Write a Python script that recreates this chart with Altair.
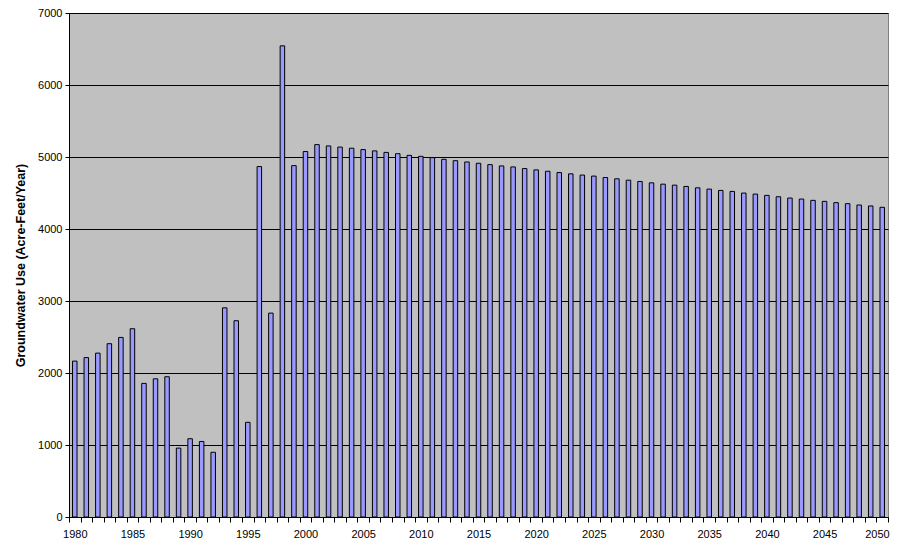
import altair as alt
import pandas as pd

years = list(range(1980, 2051))
use = [
    2165, 2214, 2276, 2407, 2494, 2615, 1856, 1919, 1948, 957,
    1087, 1049, 899, 2905, 2726, 1315, 4867, 2832, 6544, 4880,
    5076, 5172, 5154, 5138, 5122, 5103, 5085, 5064, 5046, 5023,
    5009, 4991, 4968, 4949, 4931, 4913, 4894, 4876, 4862, 4839,
    4821, 4802, 4784, 4766, 4749, 4735, 4715, 4697, 4678, 4660,
    4641, 4623, 4609, 4591, 4572, 4554, 4536, 4522, 4499, 4485,
    4467, 4448, 4430, 4416, 4398, 4384, 4366, 4352, 4333, 4320,
    4301,
]

df = pd.DataFrame({"year": years, "use": use})

FONT = "Liberation Sans"

chart = alt.Chart(df).mark_bar(
    size=4.5, fill="#9999FF", stroke="#000000", strokeWidth=1
).encode(
    x=alt.X(
        "year:O",
        title=None,
        scale=alt.Scale(paddingInner=0, paddingOuter=0),
        axis=alt.Axis(
            tickBand="extent",
            labelExpr="datum.value % 5 == 0 ? datum.label : ''",
            labelOverlap=False,
            labelAngle=0,
            labelAlign={"expr": "datum.value == 2050 ? 'right' : 'center'"},
            labelOffset={"expr": "datum.value == 2050 ? 7 : 0"},
            labelFont=FONT,
            labelFontSize=11,
            labelColor="#000000",
            labelPadding=6,
            tickColor="#000000",
            tickSize=5,
            domainColor="#000000",
            grid=False,
        ),
    ),
    y=alt.Y(
        "use:Q",
        title="Groundwater Use (Acre-Feet/Year)",
        scale=alt.Scale(domain=[0, 7000], nice=False),
        axis=alt.Axis(
            values=[0, 1000, 2000, 3000, 4000, 5000, 6000, 7000],
            format="d",
            labelFont=FONT,
            labelFontSize=11,
            labelColor="#000000",
            labelPadding=3,
            tickColor="#000000",
            tickSize=4,
            domainColor="#000000",
            gridColor="#000000",
            gridWidth=1,
            gridOpacity=1,
            titleFont=FONT,
            titleFontSize=12.5,
            titleFontWeight="bold",
            titleColor="#000000",
            titlePadding=10,
        ),
    ),
).properties(
    width=819,
    height=504,
    autosize=alt.AutoSizeParams(type="none"),
    padding={"left": 61, "top": 5, "right": 3, "bottom": 23},
    background="#FFFFFF",
).configure_view(
    fill="#C0C0C0", stroke="#808080", strokeWidth=1
)

chart.save("out.html", embed_options={"renderer": "svg", "actions": False})
